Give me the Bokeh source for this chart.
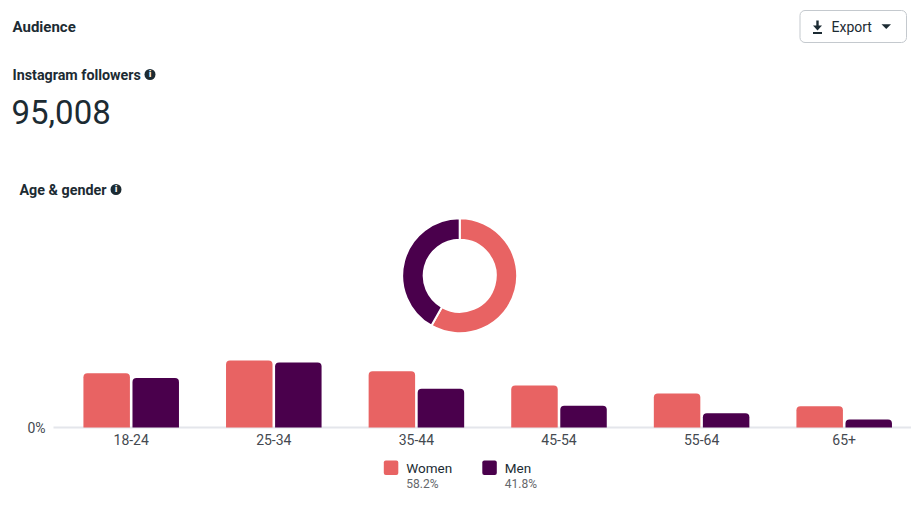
import math
from bokeh.plotting import figure
from bokeh.models import Range1d, FixedTicker, ColumnDataSource
from bokeh.layouts import column
from bokeh.transform import dodge
from bokeh.core.properties import value
from bokeh.embed import file_html
from bokeh.resources import INLINE

# ---------------- data ----------------
title = "Audience"
followers_label = "Instagram followers"
followers = 95008
section_label = "Age & gender"
button_label = "Export"
categories = ["18-24", "25-34", "35-44", "45-54", "55-64", "65+"]
series = ["Women", "Men"]
women = [11.5, 14.2, 11.9, 8.9, 7.2, 4.5]
men = [10.5, 13.8, 8.2, 4.6, 3.0, 1.7]
colors = ["#E86363", "#4A004C"]

FONT = value("Roboto")
DARK = "#1C2B33"
GREY = "#444950"
W = 911

def bare(h):
    p = figure(width=W, height=h, x_range=Range1d(0, W), y_range=Range1d(0, h),
               x_axis_type=None, y_axis_type=None, output_backend="svg",
               toolbar_location=None, min_border=0)
    p.grid.visible = False
    p.outline_line_color = None
    return p

def txt(p, x, y, s, size, color=DARK, style="normal", align="left"):
    p.text(x=[x], y=[y], text=[s], text_font=FONT, text_font_size=size,
           text_color=color, text_font_style=style, text_baseline="middle",
           text_align=align)

def info(p, x, y):
    p.scatter(x=[x], y=[y], size=11, marker="circle", fill_color=DARK, line_color=None)
    p.text(x=[x], y=[y + 0.3], text=["i"], text_font=value("DejaVu Sans"),
           text_font_size="8px", text_color="white", text_font_style="bold",
           text_align="center", text_baseline="middle")

# ---------------- header + donut ----------------
HT = 340
top = bare(HT)
Y = lambda sy: HT - sy

txt(top, 12, Y(26), title, "15px", style="bold")
txt(top, 12, Y(74), followers_label, "14.3px", style="bold")
info(top, 149.5, Y(74))
txt(top, 11, Y(111), f"{followers:,}", "33px")
txt(top, 19, Y(189), section_label, "14.3px", style="bold")
info(top, 115.5, Y(189))

# export button
top.quad(left=[799.5], right=[906], top=[Y(10)], bottom=[Y(42)],
         fill_color="white", line_color="#C4C9CE", line_width=1, border_radius=5)
top.quad(left=[815.8], right=[818.2], top=[Y(20)], bottom=[Y(26)],
         fill_color=DARK, line_color=None)
top.patch(x=[812.5, 821.5, 817], y=[Y(25), Y(25), Y(30)],
          fill_color=DARK, line_color=None)
top.quad(left=[812.5], right=[821.5], top=[Y(31.5)], bottom=[Y(33.5)],
         fill_color=DARK, line_color=None)
txt(top, 831, Y(26), button_label, "14px")
top.patch(x=[881, 890.5, 885.75], y=[Y(23.8), Y(23.8), Y(28.6)],
          fill_color=DARK, line_color=None)

# donut
totals = [sum(women), sum(men)]
grand = sum(totals)
starts, ends = [], []
a = math.pi / 2
for t in totals:
    b = a - 2 * math.pi * t / grand
    starts.append(b)
    ends.append(a)
    a = b
dsrc = ColumnDataSource(dict(start=starts, end=ends, color=colors))
top.annular_wedge(x=459.2, y=Y(275.2), inner_radius=36, outer_radius=57.5,
                  start_angle="start", end_angle="end", fill_color="color",
                  line_color="white", line_width=2, source=dsrc)

# ---------------- bars ----------------
HB = 115
STEP = 142.6                 # px per category
X0 = -130.7 / STEP           # index value at the left page edge
PX_PER_PCT = 4.717
Y_START = -10 / PX_PER_PCT
Y_END = Y_START + 92 / PX_PER_PCT
src = ColumnDataSource(dict(x=list(range(len(categories))), women=women, men=men))
bars = figure(width=W, height=HB, x_range=Range1d(X0, X0 + W / STEP),
              y_range=Range1d(Y_START, Y_END), y_axis_type=None,
              output_backend="svg", toolbar_location=None,
              min_border_left=0, min_border_right=0, min_border_top=5, min_border_bottom=18)
bars.grid.visible = False
bars.outline_line_color = None
bars.segment(x0=[X0 + 53 / STEP], x1=[X0 + W / STEP], y0=[0], y1=[0],
             line_color="#E4E6EB", line_width=2)
bars.vbar(x=dodge("x", -0.172, range=bars.x_range), top="women", width=0.326, source=src,
          fill_color=colors[0], line_color=None, border_radius=(4, 4, 0, 0))
bars.vbar(x=dodge("x", 0.172, range=bars.x_range), top="men", width=0.326, source=src,
          fill_color=colors[1], line_color=None, border_radius=(4, 4, 0, 0))
bars.text(x=[X0 + 45 / STEP], y=[0], text=["0%"], text_font=FONT, text_font_size="14px",
          text_color=GREY, text_align="right", text_baseline="middle")

xa = bars.xaxis[0]
xa.ticker = FixedTicker(ticks=list(range(len(categories))))
xa.major_label_overrides = {i: c for i, c in enumerate(categories)}
xa.major_tick_line_color = None
xa.major_tick_out = 0
xa.minor_tick_line_color = None
xa.axis_line_color = None
xa.major_label_text_font = "Roboto"
xa.major_label_text_font_size = "14px"
xa.major_label_text_color = GREY
xa.major_label_standoff = -4

# ---------------- legend ----------------
HL = 62
leg = bare(HL)
LY = lambda sy: HL - (sy - 455)
leg_x = [383.3, 481.8]
for name, col, tot, lx in zip(series, colors, totals, leg_x):
    leg.quad(left=[lx], right=[lx + 14.5], top=[LY(460)], bottom=[LY(474.5)],
             fill_color=col, line_color=None, border_radius=2)
    txt(leg, lx + 22.5, LY(467), name, "13.5px", color=DARK)
    txt(leg, lx + 22.5, LY(483.5), f"{tot / grand * 100:.1f}%", "12px", color="#65676B")

layout = column(top, bars, leg, spacing=0)
open("out.html", "w").write(file_html(layout, INLINE))
